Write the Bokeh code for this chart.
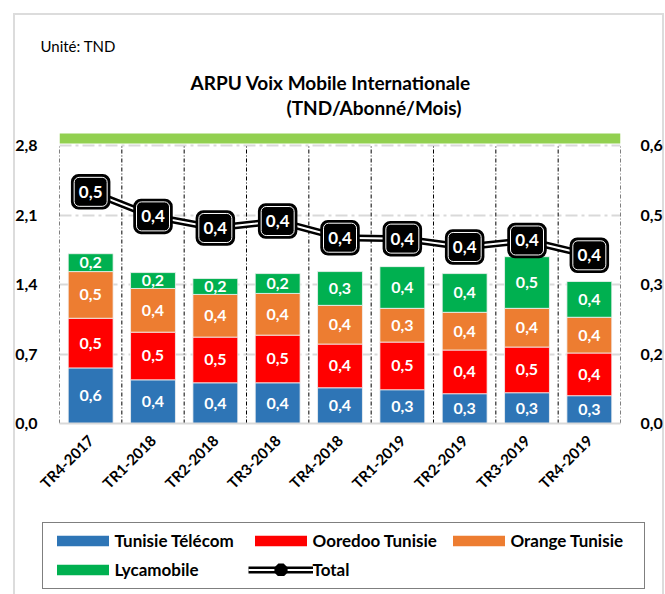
import math
from bokeh.plotting import figure
from bokeh.models import (ColumnDataSource, FactorRange, Range1d, LinearAxis, FixedTicker,
                          BoxAnnotation, Title, Label, Legend, LegendItem)
from bokeh.core.properties import value
from bokeh.embed import file_html
from bokeh.resources import INLINE

# ---------------- data ----------------
categories = ["TR4-2017", "TR1-2018", "TR2-2018", "TR3-2018", "TR4-2018",
              "TR1-2019", "TR2-2019", "TR3-2019", "TR4-2019"]
tunisie_telecom = [0.56, 0.44, 0.41, 0.41, 0.36, 0.34, 0.30, 0.31, 0.28]
ooredoo = [0.50, 0.48, 0.46, 0.48, 0.44, 0.48, 0.44, 0.46, 0.43]
orange = [0.47, 0.44, 0.43, 0.42, 0.39, 0.34, 0.38, 0.39, 0.36]
lycamobile = [0.18, 0.16, 0.16, 0.20, 0.34, 0.42, 0.39, 0.52, 0.36]
total = [0.50, 0.447, 0.422, 0.437, 0.401, 0.399, 0.381, 0.395, 0.363]

series_names = ["Tunisie Télécom", "Ooredoo Tunisie", "Orange Tunisie", "Lycamobile"]
series_colors = ["#2e75b6", "#ff0000", "#ed7d31", "#00b050"]

left_ticks = [0, 0.7, 1.4, 2.1, 2.8]
left_tick_labels = ["0,0", "0,7", "1,4", "2,1", "2,8"]
right_ticks = [0, 0.15, 0.3, 0.45, 0.6]
right_tick_labels = ["0,0", "0,2", "0,3", "0,5", "0,6"]

FONT = "Lato"


def fmt(v):
    return f"{v:.1f}".replace(".", ",")


# ---------------- layout numbers (pixels) ----------------
W = 665
H_CHART, H_LEG = 515, 79
FRAME_LEFT, FRAME_RIGHT = 59, 620
FRAME_TOP, FRAME_BOTTOM = 62, 423      # frame also hosts the headings + band
AXIS_TOP = 145                          # pixel row of the 2,8 line
px_per_unit = (FRAME_BOTTOM - AXIS_TOP) / left_ticks[-1]
ext = (FRAME_BOTTOM - FRAME_TOP) / (FRAME_BOTTOM - AXIS_TOP)
left_max, right_max = left_ticks[-1], right_ticks[-1]
GRAY = "#dcdcdc"

p = figure(x_range=FactorRange(*categories), y_range=Range1d(0, left_max * ext),
           width=W, height=H_CHART, output_backend="svg", toolbar_location=None, title=None,
           min_border_left=FRAME_LEFT, min_border_right=W - FRAME_RIGHT,
           min_border_top=FRAME_TOP, min_border_bottom=H_CHART - FRAME_BOTTOM)
p.extra_y_ranges = {"tot": Range1d(0, right_max * ext)}
p.outline_line_color = None
p.background_fill_color = None
p.border_fill_color = None
p.styles = {
    "background": (f"linear-gradient({GRAY},{GRAY}) 13px 13px / 2px 100% no-repeat, "
                   f"linear-gradient({GRAY},{GRAY}) 13px 13px / 651px 2px no-repeat, "
                   f"linear-gradient({GRAY},{GRAY}) 662px 13px / 2px 100% no-repeat, white")
}

# left axis
p.yaxis.ticker = FixedTicker(ticks=left_ticks)
p.yaxis.major_label_overrides = dict(zip(left_ticks, left_tick_labels))
# right axis
raxis = LinearAxis(y_range_name="tot", ticker=FixedTicker(ticks=right_ticks),
                   major_label_overrides=dict(zip(right_ticks, right_tick_labels)))
p.add_layout(raxis, "right")

for ax in [p.yaxis[0], raxis]:
    ax.axis_line_color = None
    ax.major_tick_line_color = None
    ax.minor_tick_line_color = None
    ax.major_label_text_font = FONT
    ax.major_label_text_font_style = "bold"
    ax.major_label_text_font_size = "16px"
    ax.major_label_text_color = "black"
p.yaxis[0].major_label_standoff = 16
raxis.major_label_standoff = 14

xa = p.xaxis[0]
xa.axis_line_color = "#d9d9d9"
xa.axis_line_width = 2
xa.major_tick_line_color = None
xa.minor_tick_line_color = None
xa.major_label_orientation = math.pi / 4
xa.major_label_text_font = FONT
xa.major_label_text_font_style = "bold"
xa.major_label_text_font_size = "15px"
xa.major_label_text_color = "black"
xa.major_label_standoff = 8

p.xgrid.grid_line_color = None
p.ygrid.ticker = FixedTicker(ticks=left_ticks)
p.ygrid.grid_line_color = "#d9d9d9"
p.ygrid.grid_line_width = 2
p.ygrid.grid_line_dash = "12 4 3 4"

# category boundaries (vertical dash-dot lines, 0 .. 2,8)
bounds = list(range(len(categories) + 1))
p.segment(x0=bounds, y0=[0] * len(bounds), x1=bounds, y1=[left_max] * len(bounds),
          line_color="black", line_width=1, line_dash="4 2 1 2")

# green band above the plot area
p.add_layout(BoxAnnotation(bottom=left_max + 2 / px_per_unit, top=left_max + 12 / px_per_unit,
                           fill_color="#92d050", fill_alpha=1, line_color=None))

# ---------------- stacked bars ----------------
source = ColumnDataSource(dict(cat=categories, tt=tunisie_telecom, oo=ooredoo,
                               og=orange, ly=lycamobile))
bars = p.vbar_stack(["tt", "oo", "og", "ly"], x="cat", width=0.72, source=source,
                    fill_color=series_colors, line_color="#f2f2f2", line_width=0.8)

xs, ys, txt = [], [], []
base = [0.0] * len(categories)
for s in [tunisie_telecom, ooredoo, orange, lycamobile]:
    for i, v in enumerate(s):
        xs.append(categories[i])
        ys.append(base[i] + v / 2)
        txt.append(fmt(v))
        base[i] += v
p.text(x=xs, y=ys, text=txt, text_align="center", text_baseline="middle",
       text_color="white", text_font=value(FONT), text_font_style="bold",
       text_font_size="16px")

# ---------------- total line ----------------
p.line(x=categories, y=total, y_range_name="tot", line_color="black", line_width=7)
p.line(x=categories, y=total, y_range_name="tot", line_color="white", line_width=2)
p.rect(x=categories, y=total, width=38, height=34, width_units="screen", height_units="screen",
       y_range_name="tot", fill_color="black", line_color="black", line_width=1.5,
       border_radius=7)
p.rect(x=categories, y=total, width=33, height=29, width_units="screen", height_units="screen",
       y_range_name="tot", fill_color=None, line_color="white", line_width=1,
       border_radius=5)
p.text(x=categories, y=total, text=[fmt(v) for v in total], y_range_name="tot",
       text_align="center", text_baseline="middle", text_color="white",
       text_font=value(FONT), text_font_style="bold", text_font_size="17px")

# ---------------- headings ----------------
p.add_layout(Label(x=190 - FRAME_LEFT, y=FRAME_BOTTOM - 82, x_units="screen", y_units="screen",
                   text="ARPU Voix Mobile Internationale", text_font=FONT,
                   text_font_style="bold", text_font_size="19px", text_align="left",
                   text_baseline="middle", text_color="black"))
p.add_layout(Label(x=286 - FRAME_LEFT, y=FRAME_BOTTOM - 107, x_units="screen", y_units="screen",
                   text="(TND/Abonné/Mois)", text_font=FONT,
                   text_font_style="bold", text_font_size="19px", text_align="left",
                   text_baseline="middle", text_color="black"))
p.add_layout(Title(text="Unité: TND", align="left", offset=-19,
                   text_font=FONT, text_font_style="normal", text_font_size="15px",
                   text_color="black", standoff=16), "above")

# ---------------- legend (separate strip below the chart) ----------------
lg = figure(width=W, height=H_LEG, x_range=Range1d(0, 1), y_range=Range1d(0, 1),
            x_axis_type=None, y_axis_type=None, output_backend="svg",
            toolbar_location=None, title=None, min_border=0)
lg.outline_line_color = None
lg.background_fill_color = None
lg.border_fill_color = None
lg.styles = {
    "background": (f"linear-gradient({GRAY},{GRAY}) 13px 0 / 2px 100% no-repeat, "
                   f"linear-gradient({GRAY},{GRAY}) 662px 0 / 2px 100% no-repeat, white")
}
# legend proxies: same styles as the chart glyphs, tiny and hidden behind the legend box
proxies = [lg.vbar(x=[0.5], top=[0.5], bottom=[0.5], width=0.001, fill_color=c,
                   line_color=None) for c in series_colors]
t_black = lg.line(x=[0.5], y=[0.5], line_color="black", line_width=7)
t_white = lg.line(x=[0.5], y=[0.5], line_color="white", line_width=2)
t_mark = lg.scatter(x=[0.5], y=[0.5], marker="square", size=5, fill_color="black",
                    line_color="black", line_width=8)
items = [LegendItem(label=n, renderers=[r]) for n, r in zip(series_names, proxies)]
items.append(LegendItem(label="Total", renderers=[t_black, t_white, t_mark]))
legend = Legend(items=items, location=(41.5, 5.5), orientation="horizontal", ncols=3,
                glyph_width=65, glyph_height=13, label_standoff=0, label_width=126,
                label_height=22, spacing=7, padding=7, margin=0,
                border_line_color="black", border_line_width=1.5,
                label_text_font=FONT, label_text_font_style="bold",
                label_text_font_size="17px", label_text_color="black",
                background_fill_color="white", background_fill_alpha=1)
lg.add_layout(legend)

open("out.html", "w").write(file_html([p, lg], INLINE))
